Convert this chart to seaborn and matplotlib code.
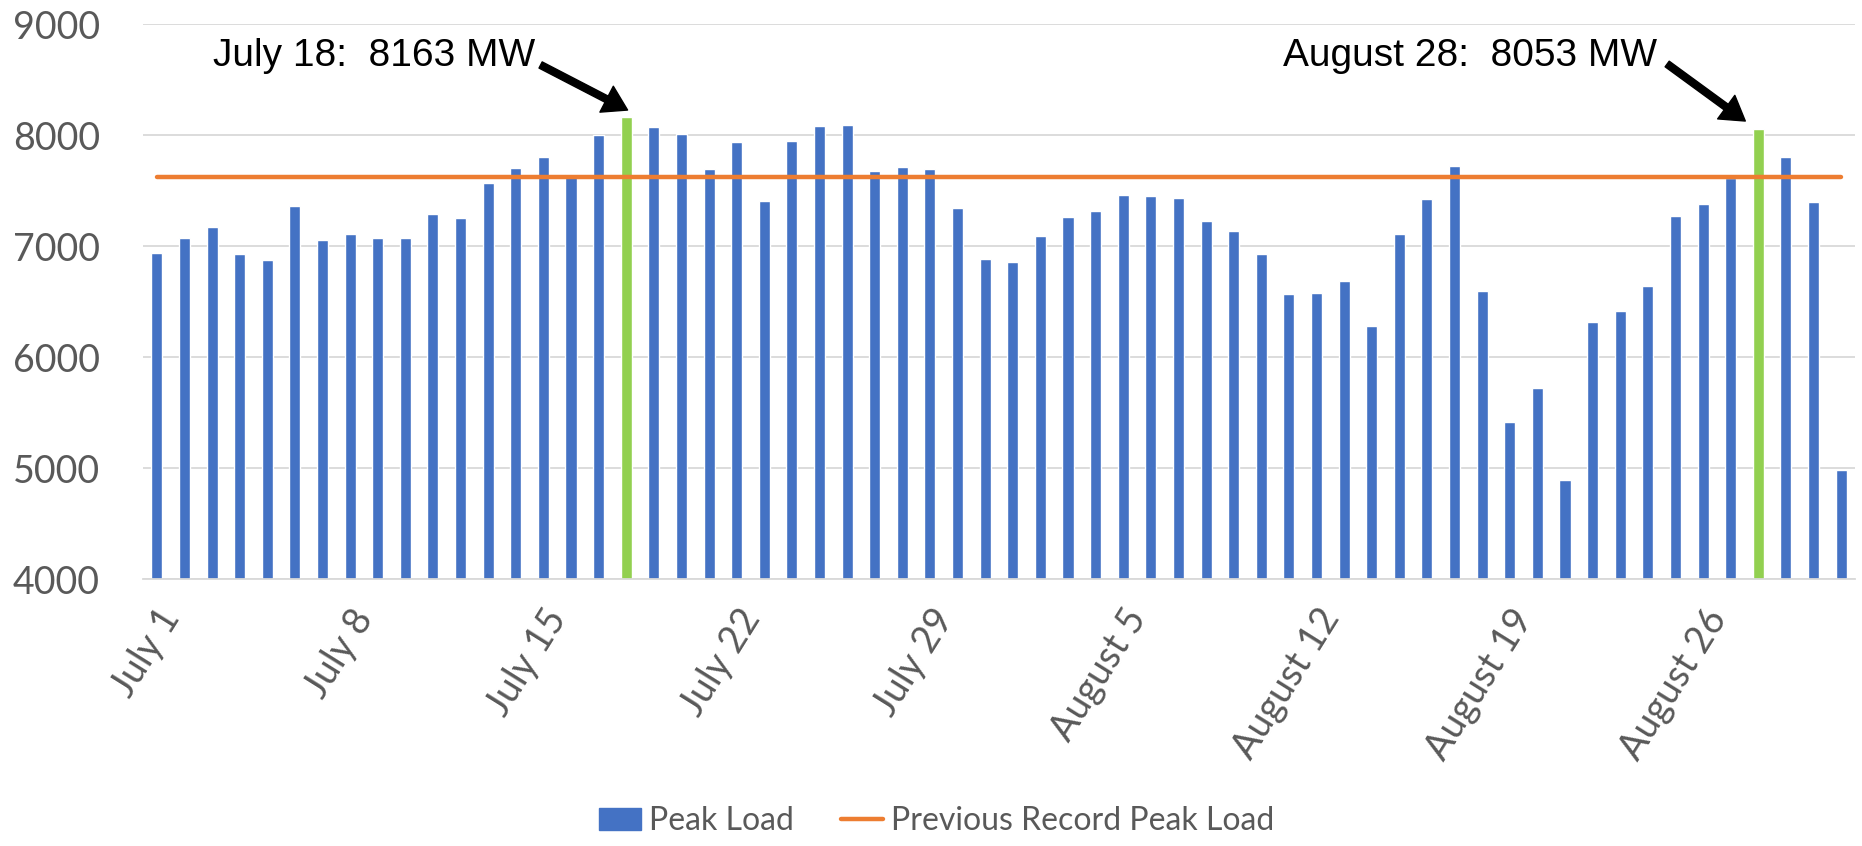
import matplotlib.pyplot as plt
import seaborn as sb
import pandas as pd
from matplotlib.patches import Patch
from matplotlib.lines import Line2D

# Dados (MW)
dias = [f"July {d}" for d in range(1, 32)] + [f"August {d}" for d in range(1, 32)]
carga = [6940, 7070, 7170, 6930, 6870, 7360, 7050, 7110, 7070, 7070,
         7290, 7250, 7570, 7700, 7800, 7650, 8000, 8163, 8070, 8010,
         7690, 7935, 7405, 7950, 8085, 8090, 7675, 7710, 7690, 7345,
         6885, 6855, 7090, 7265, 7315, 7460, 7450, 7430, 7225, 7135,
         6930, 6565, 6580, 6685, 6275, 7105, 7425, 7720, 6595, 5415,
         5725, 4895, 6315, 6415, 6640, 7270, 7375, 7610, 8053, 7800,
         7400, 4985]
recorde_anterior = 7620
picos = ["July 18", "August 28"]
rotulos_picos = ["July 18:  8163 MW", "August 28:  8053 MW"]
ticks_x = ["July 1", "July 8", "July 15", "July 22", "July 29",
           "August 5", "August 12", "August 19", "August 26"]
y_ticks = [4000, 5000, 6000, 7000, 8000, 9000]

AZUL = "#4472C4"
VERDE = "#92D050"
LARANJA = "#ED7D31"
CINZA = "#595959"
GRADE = "#D9D9D9"

df = pd.DataFrame({"dia": dias, "carga": carga})
df["recorde"] = recorde_anterior
cores = [VERDE if d in picos else AZUL for d in dias]

sb.set_style("white")
plt.rcParams["font.family"] = ["Lato", "DejaVu Sans"]

fig = plt.figure(figsize=(18.62, 8.46), dpi=100)
ax = fig.add_axes([0.0768, 0.3156, 0.9194, 0.656])

sb.barplot(data=df, x="dia", y="carga", hue="dia", palette=cores, legend=False,
           width=0.4, saturation=1, errorbar=None, ax=ax)
sb.lineplot(data=df, x="dia", y="recorde", sort=False, color=LARANJA, lw=3.2, ax=ax)

ax.set_xlim(-0.5, len(dias) - 0.5)
ax.set_ylim(y_ticks[0], y_ticks[-1])
ax.set_yticks(y_ticks)
ax.set_axisbelow(True)
ax.yaxis.grid(True, color=GRADE, lw=1.3)
ax.xaxis.grid(False)
for lado in ["top", "right", "left"]:
    ax.spines[lado].set_visible(False)
ax.spines["bottom"].set_color(GRADE)
ax.spines["bottom"].set_linewidth(1.3)

ax.set_xticks([dias.index(t) for t in ticks_x])
ax.set_xticklabels(ticks_x, rotation=58, ha="right", rotation_mode="anchor")
ax.tick_params(axis="y", length=0, pad=31, labelsize=27, labelcolor=CINZA)
ax.tick_params(axis="x", length=0, pad=17, labelsize=27, labelcolor=CINZA)
ax.set_xlabel("")
ax.set_ylabel("")

# Anotacoes dos novos recordes
fonte_anot = ["Liberation Sans", "DejaVu Sans"]
ax.text(13.69, 8620, rotulos_picos[0], ha="right", va="baseline", fontsize=28,
        family=fonte_anot, color="black")
ax.text(54.34, 8620, rotulos_picos[1], ha="right", va="baseline", fontsize=28,
        family=fonte_anot, color="black")
seta = dict(facecolor="black", edgecolor="black", width=5, headwidth=21, headlength=17, shrink=0)
ax.annotate("", xy=(17.05, 8225), xytext=(13.9, 8631), arrowprops=seta)
ax.annotate("", xy=(57.53, 8126), xytext=(54.7, 8640), arrowprops=seta)

handles = [Patch(color=AZUL), Line2D([], [], color=LARANJA, lw=3.2)]
fig.legend(handles, ["Peak Load", "Previous Record Peak Load"], loc="lower center",
           bbox_to_anchor=(0.503, -0.022), ncol=2, frameon=False, fontsize=23,
           handlelength=1.3, columnspacing=1.5, handletextpad=0.25, labelcolor=CINZA)

fig.savefig("out.png", dpi=100)
